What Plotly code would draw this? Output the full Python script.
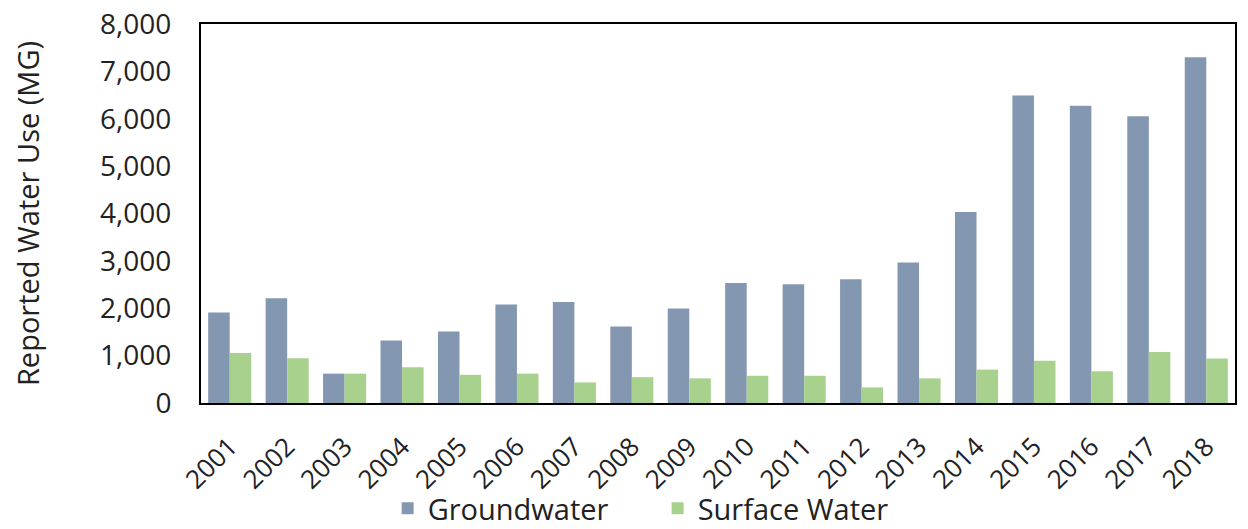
import plotly.graph_objects as go

years = [str(y) for y in range(2001, 2019)]
groundwater = [1910, 2210, 620, 1320, 1510, 2080, 2130, 1615, 1995, 2535, 2505, 2610, 2965, 4030, 6490, 6275, 6055, 7300]
surface_water = [1055, 945, 620, 755, 595, 620, 435, 545, 520, 575, 575, 330, 520, 705, 890, 670, 1075, 940]

font_family = "Open Sans"

fig = go.Figure()
fig.add_trace(go.Bar(x=years, y=groundwater, name="Groundwater", marker_color="#8497b0", marker_line_width=0))
fig.add_trace(go.Bar(x=years, y=surface_water, name="Surface Water", marker_color="#a9d18e", marker_line_width=0))

fig.update_layout(
    template="none",
    width=1248, height=529,
    margin=dict(l=201, r=13, t=24, b=126, pad=0, autoexpand=False),
    barmode="group", bargap=0.25, bargroupgap=0,
    plot_bgcolor="white", paper_bgcolor="white",
    font=dict(family=font_family, size=26, color="#222222"),
    showlegend=True,
    legend=dict(orientation="h", x=0.1805, xanchor="left", y=-0.278, yanchor="middle",
                font=dict(size=29, color="#222222"), entrywidth=225, entrywidthmode="pixels",
                tracegroupgap=0, bgcolor="rgba(0,0,0,0)", borderwidth=0),
)
fig.update_xaxes(type="category", showline=True, linecolor="black", linewidth=2, mirror=True, automargin=False,
                 tickmode="array", tickvals=years, ticktext=years,
                 tickangle=-45, ticks="", tickfont=dict(size=26), showgrid=False, ticklabelstandoff=16)
fig.update_yaxes(showline=True, linecolor="black", linewidth=2, mirror=True, automargin=False,
                 range=[0, 8000], dtick=1000, tickformat=",", ticks="",
                 showgrid=False, zeroline=False, tickfont=dict(size=28), ticklabelstandoff=22,
                 title=dict(text="Reported Water Use (MG)", font=dict(size=29), standoff=52))

fig.write_html("out.html", post_script="document.body.style.margin='0';",
               config={"displayModeBar": False})
